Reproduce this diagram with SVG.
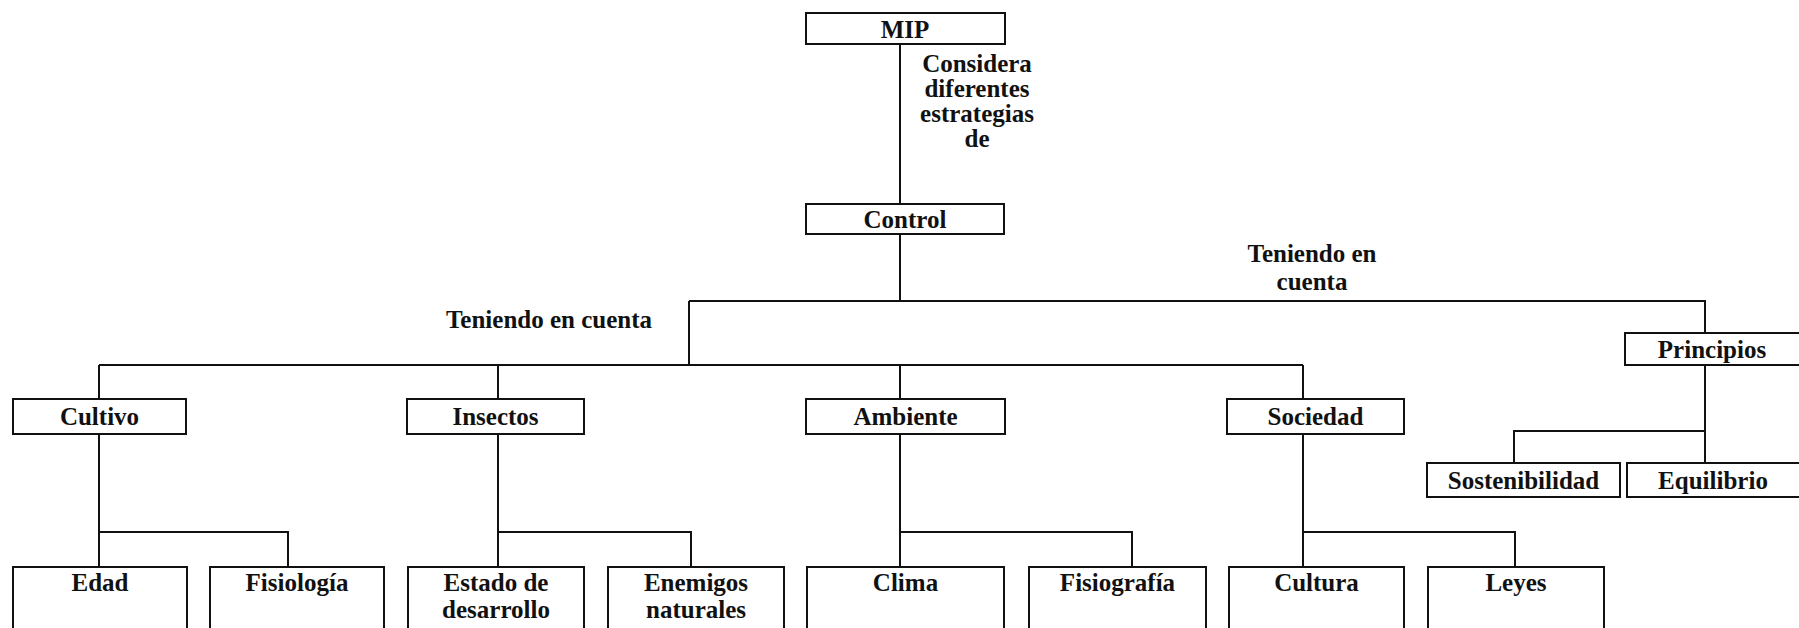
<svg xmlns="http://www.w3.org/2000/svg" width="1799" height="628" viewBox="0 0 1799 628">
  <style>
    .box { fill: #ffffff; stroke: #111111; stroke-width: 2; }
    .lbl { font-family: "Liberation Serif", "Times New Roman", serif; font-weight: bold; font-size: 25px; fill: #111111; text-anchor: middle; }
    .wire { fill: none; stroke: #111111; stroke-width: 2; }
  </style>
  <rect width="1799" height="628" fill="#ffffff"/>

  <!-- connectors -->
  <g id="connectors" class="wire">
    <path d="M900 44 V204"/>
    <path d="M900 234 V301"/>
    <path d="M689 301 H1705 V333"/>
    <path d="M689 301 V365"/>
    <path d="M99 365 H1303"/>
    <path d="M99 365 V399 M498 365 V399 M900 365 V399 M1303 365 V399"/>
    <!-- Cultivo -->
    <path d="M99 434 V567 M99 532 H288 V567"/>
    <!-- Insectos -->
    <path d="M498 434 V567 M498 532 H691 V567"/>
    <!-- Ambiente -->
    <path d="M900 434 V567 M900 532 H1132 V567"/>
    <!-- Sociedad -->
    <path d="M1303 434 V567 M1303 532 H1515 V567"/>
    <!-- Principios -->
    <path d="M1705 365 V463 M1705 431 H1514 V463"/>
  </g>

  <!-- connector labels -->
  <g id="labels" class="lbl">
    <text x="977" y="72">Considera</text>
    <text x="977" y="97">diferentes</text>
    <text x="977" y="122">estrategias</text>
    <text x="977" y="147">de</text>
    <text x="549" y="328">Teniendo en cuenta</text>
    <text x="1312" y="262">Teniendo en</text>
    <text x="1312" y="290">cuenta</text>
  </g>

  <g id="mip"><rect class="box" x="806" y="13" width="199" height="31"/><text class="lbl" x="905" y="38">MIP</text></g>
  <g id="control"><rect class="box" x="806" y="204" width="198" height="30"/><text class="lbl" x="905" y="228">Control</text></g>

  <g id="cultivo"><rect class="box" x="13" y="399" width="173" height="35"/><text class="lbl" x="99.5" y="425">Cultivo</text></g>
  <g id="insectos"><rect class="box" x="407" y="399" width="177" height="35"/><text class="lbl" x="495.5" y="425">Insectos</text></g>
  <g id="ambiente"><rect class="box" x="806" y="399" width="199" height="35"/><text class="lbl" x="905.5" y="425">Ambiente</text></g>
  <g id="sociedad"><rect class="box" x="1227" y="399" width="177" height="35"/><text class="lbl" x="1315.5" y="425">Sociedad</text></g>
  <g id="principios"><rect class="box" x="1625" y="333" width="180" height="32"/><text class="lbl" x="1712" y="358">Principios</text></g>

  <g id="sostenibilidad"><rect class="box" x="1427" y="463" width="193" height="34"/><text class="lbl" x="1523.5" y="489">Sostenibilidad</text></g>
  <g id="equilibrio"><rect class="box" x="1627" y="463" width="178" height="34"/><text class="lbl" x="1713" y="489">Equilibrio</text></g>

  <g id="edad"><rect class="box" x="13" y="567" width="174" height="80"/><text class="lbl" x="100" y="591">Edad</text></g>
  <g id="fisiologia"><rect class="box" x="210" y="567" width="174" height="80"/><text class="lbl" x="297" y="591">Fisiología</text></g>
  <g id="estado"><rect class="box" x="408" y="567" width="176" height="80"/><text class="lbl" x="496" y="591">Estado de</text><text class="lbl" x="496" y="618">desarrollo</text></g>
  <g id="enemigos"><rect class="box" x="608" y="567" width="176" height="80"/><text class="lbl" x="696" y="591">Enemigos</text><text class="lbl" x="696" y="618">naturales</text></g>
  <g id="clima"><rect class="box" x="807" y="567" width="197" height="80"/><text class="lbl" x="905.5" y="591">Clima</text></g>
  <g id="fisiografia"><rect class="box" x="1029" y="567" width="177" height="80"/><text class="lbl" x="1117.5" y="591">Fisiografía</text></g>
  <g id="cultura"><rect class="box" x="1229" y="567" width="175" height="80"/><text class="lbl" x="1316.5" y="591">Cultura</text></g>
  <g id="leyes"><rect class="box" x="1428" y="567" width="176" height="80"/><text class="lbl" x="1516" y="591">Leyes</text></g>
</svg>
